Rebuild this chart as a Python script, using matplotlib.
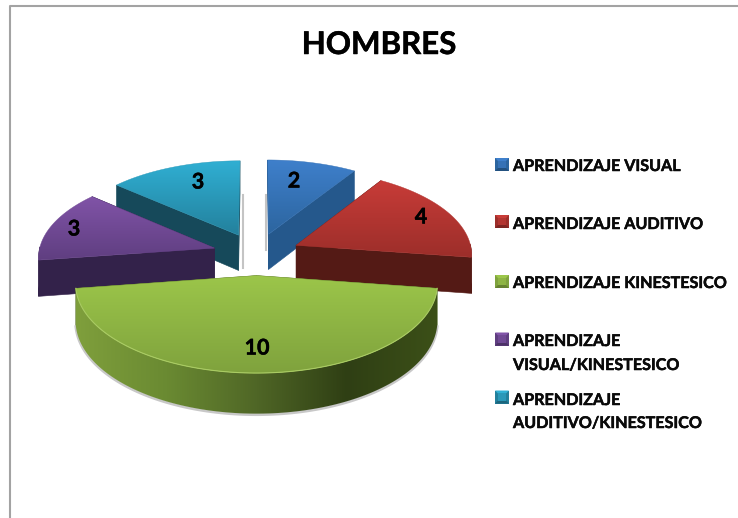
import numpy as np
import matplotlib
matplotlib.use('Agg')
import matplotlib.pyplot as plt
import matplotlib.patheffects as pe
from matplotlib.colors import to_rgb, LinearSegmentedColormap
from matplotlib.patches import Polygon

# Data
title = 'HOMBRES'
categories = ['APRENDIZAJE VISUAL', 'APRENDIZAJE AUDITIVO', 'APRENDIZAJE KINESTESICO',
              'APRENDIZAJE\nVISUAL/KINESTESICO', 'APRENDIZAJE\nAUDITIVO/KINESTESICO']
values = [2, 4, 10, 3, 3]

# Colours: top of slice (far, near), flat wall
top_far = ['#3f80cc', '#c83c38', '#9cc64a', '#8154a8', '#30b0d4']
top_near = ['#2c659f', '#9c2e2a', '#7fa23d', '#5f3e80', '#23809c']
wall_col = ['#25588c', '#541a15', '#4f6626', '#33224a', '#16495a']
green_side = ['#7f9f3c', '#6a8a32', '#4f6626', '#2f3f14', '#3c5018']

# Where each slice is drawn (back to front) and where its number goes
draw_order = [4, 0, 3, 1, 2]
label_xy = [(294, 181), (421, 217), (257, 348), (74, 229), (198, 182)]
legend_y = [164.5, 221.5, 281.5, 339, 397]
legend_baselines = [[171], [229], [288], [346, 370], [405, 428]]

cx, cy = 256.5, 254.0
A, B, K = 176.0, 84.4, 0.091
explode = 0.25
depth = 36.0


def project(x, y, drop=0.0):
    s = 1 / (1 + K * y)
    return cx + A * x * s, cy - B * y * s + drop * s


def gradient_fill(pts, colors, horizontal=False, zorder=2):
    # image gradient clipped to the polygon pts
    xs = [p[0] for p in pts]
    ys = [p[1] for p in pts]
    cmap = LinearSegmentedColormap.from_list('f', colors)
    grad = np.linspace(0, 1, 128).reshape(-1, 1)
    if horizontal:
        grad = grad.T
    im = ax.imshow(grad, cmap=cmap, extent=[min(xs) - 1, max(xs) + 1, max(ys) + 1, min(ys) - 1],
                   aspect='auto', zorder=zorder)
    im.set_clip_path(Polygon(pts, closed=True, transform=ax.transData))


plt.rcParams['font.family'] = ['Lato', 'DejaVu Sans']
fig = plt.figure(figsize=(7.38, 5.18), dpi=100)
ax = fig.add_axes([0, 0, 1, 1])
ax.axis('off')

# chart frame
ax.plot([10, 10, 738], [518, 6, 6], color='#a3a3a3', lw=1.5, zorder=1)

# faint shadows beside the two back slices
ax.plot([266, 266], [195, 250], color='#c4c4c4', lw=1.5, zorder=1)
ax.plot([243, 243], [195, 268], color='#c4c4c4', lw=1.5, zorder=1)

total = sum(values)
stops = 90 - np.cumsum([0] + values) * 360.0 / total
z = 2
for i in draw_order:
    t1, t2 = stops[i], stops[i + 1]
    bis = np.radians((t1 + t2) / 2)
    ang = np.radians(np.linspace(t1, t2, 120))
    ox, oy = explode * np.cos(bis), explode * np.sin(bis)
    arc_x, arc_y = ox + np.cos(ang), oy + np.sin(ang)

    # straight walls
    for ex, ey in [(arc_x[0], arc_y[0]), (arc_x[-1], arc_y[-1])]:
        quad = [project(ox, oy), project(ex, ey), project(ex, ey, depth), project(ox, oy, depth)]
        ax.add_patch(Polygon(quad, closed=True, fc=wall_col[i], ec=wall_col[i], lw=0.4, zorder=z))
    z += 1

    # outer curved wall, only the part facing the viewer
    front = np.sin(ang) < 0.02
    if front.sum() > 1:
        fx, fy = arc_x[front], arc_y[front]
        sx, sy = project(fx, fy)
        bx, by = project(fx, fy, depth)
        side = list(zip(sx, sy)) + list(zip(bx[::-1], by[::-1]))
        if i == 2:
            # soft shadow under the big slice, then the left to right gradient
            ax.plot(bx, by + 1, color='#c8c8c8', lw=2, zorder=z)
            gradient_fill(side, green_side, horizontal=True, zorder=z + 1)
        else:
            ax.add_patch(Polygon(side, closed=True, fc=wall_col[i], ec=wall_col[i], lw=0.4, zorder=z))
    z += 2

    # top face with a vertical gradient
    sx, sy = project(arc_x, arc_y)
    pts = [project(ox, oy)] + list(zip(sx, sy))
    gradient_fill(pts, [top_far[i], top_near[i]], zorder=z)
    mid = tuple((np.array(to_rgb(top_far[i])) + np.array(to_rgb(top_near[i]))) / 2)
    ax.add_patch(Polygon(pts, closed=True, fc='none', ec=mid, lw=0.3, zorder=z + 1))
    if i == 2:
        ax.plot(sx, sy, color='#a9cb63', lw=0.8, zorder=z + 1)
    z += 2

heavy = [pe.withStroke(linewidth=0.35, foreground='black')]

# value labels
for v, (lx, ly) in zip(values, label_xy):
    ax.text(lx, ly, str(v), fontsize=15.5, fontweight='bold', color='black',
            ha='center', va='center', zorder=z, path_effects=heavy)

ax.text(379, 54, title, fontsize=22.5, fontweight='bold', color='black', ha='center', va='baseline',
        zorder=z, path_effects=heavy)

# legend
for i, name in enumerate(categories):
    y = legend_y[i]
    x0, x1 = 495, 509
    y0, y1 = y - 6.5, y + 6.5
    far = np.array(to_rgb(top_far[i]))
    near = np.array(to_rgb(top_near[i]))
    ax.fill([x0, x1, x1, x0], [y0, y0, y1, y1], color=tuple(near), lw=0, zorder=z)
    ax.fill([x0, x1, x1 - 3, x0 + 3], [y0, y0, y0 + 3, y0 + 3], color=tuple(far), lw=0, zorder=z)
    ax.fill([x0, x1, x1 - 3, x0 + 3], [y1, y1, y1 - 3, y1 - 3], color=tuple(near * 0.8), lw=0, zorder=z)
    ax.fill([x0 + 3, x1 - 3, x1 - 3, x0 + 3], [y0 + 3, y0 + 3, y1 - 3, y1 - 3],
            color=tuple((far + near) / 2), lw=0, zorder=z + 1)
    for line, base in zip(name.split('\n'), legend_baselines[i]):
        ax.text(513, base, line, fontsize=11.6, fontweight='bold', color='#0a0a0a',
                ha='left', va='baseline', zorder=z, path_effects=heavy)

ax.set_xlim(0, 738)
ax.set_ylim(518, 0)
fig.savefig('out.png', dpi=100, facecolor='white')
